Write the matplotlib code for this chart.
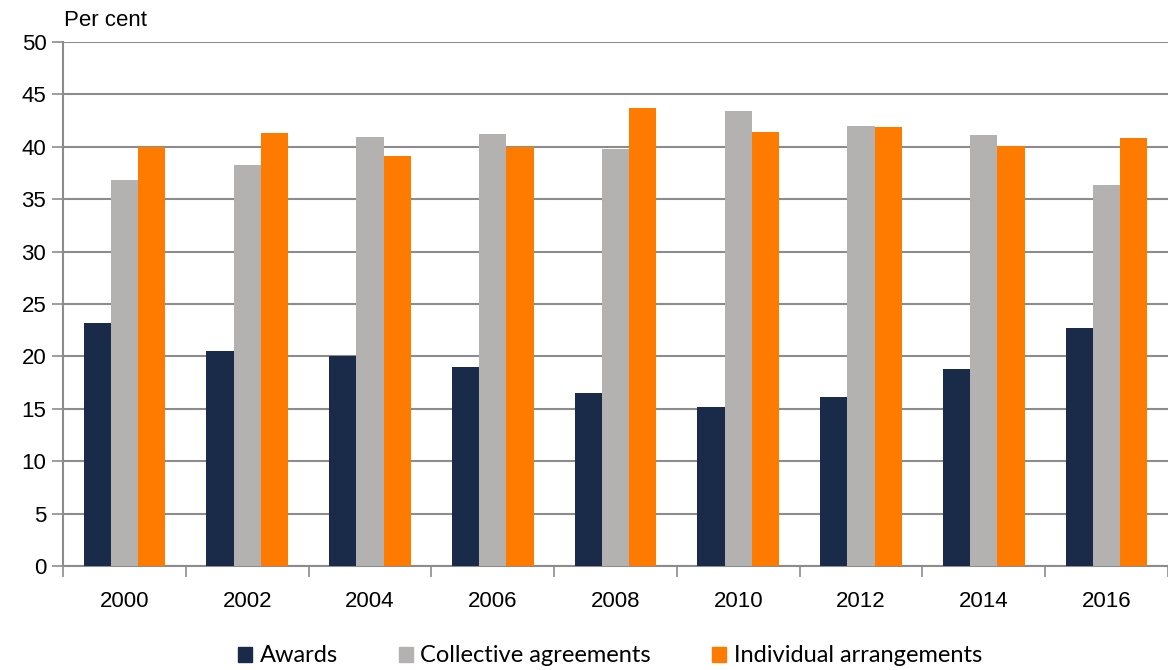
import numpy as np
import matplotlib.pyplot as plt
from matplotlib.patches import Patch

years = ['2000', '2002', '2004', '2006', '2008', '2010', '2012', '2014', '2016']
awards = [23.2, 20.5, 20.0, 19.0, 16.5, 15.2, 16.1, 18.8, 22.7]
collective = [36.8, 38.3, 40.9, 41.2, 39.8, 43.4, 42.0, 41.1, 36.4]
individual = [40.0, 41.3, 39.1, 40.0, 43.7, 41.4, 41.9, 40.1, 40.8]

series = [('Awards', awards, '#1a2b4a'),
          ('Collective agreements', collective, '#b3b2b1'),
          ('Individual arrangements', individual, '#ff7b00')]

plt.rcParams['font.family'] = ['Liberation Sans', 'DejaVu Sans']
fig = plt.figure(figsize=(11.68, 6.7), dpi=100)
ax = fig.add_axes([63 / 1168, 1 - 566 / 670, 1 - 63 / 1168, (566 - 42) / 670])

x = np.arange(len(years))
w = 0.222
for i, (name, vals, col) in enumerate(series):
    ax.bar(x + (i - 1) * w, vals, w, color=col, zorder=3, label=name)

ax.set_ylim(0, 50)
ax.set_yticks(np.arange(0, 51, 5))
ax.set_xlim(-0.5, 8.47)
ax.set_xticks(x)
ax.set_xticklabels(years)
ax.set_xticks(np.arange(-0.5, 9, 1), minor=True)
ax.tick_params(axis='x', which='major', length=0, pad=18, labelsize=16)
ax.tick_params(axis='x', which='minor', length=8, width=1.2, color='#8c8c8c')
ax.tick_params(axis='y', length=8, width=1.2, color='#8c8c8c', labelsize=16, pad=4)
ax.yaxis.grid(True, color='#8c8c8c', linewidth=1.5, zorder=0)
for s in ['top', 'right']:
    ax.spines[s].set_visible(False)
for s in ['left', 'bottom']:
    ax.spines[s].set_color('#8c8c8c')
    ax.spines[s].set_linewidth(1.5)
ax.set_axisbelow(True)

fig.text(64 / 1168, 1 - 20 / 670, 'Per cent', fontsize=16, va='center', ha='left')

handles = [Patch(color=c, label=n) for n, _, c in series]
fig.legend(handles=handles, loc='center', bbox_to_anchor=(610 / 1168, 1 - 656 / 670),
           ncol=3, frameon=False, prop={'family': 'Lato', 'size': 17},
           handlelength=0.6, handleheight=0.6, handletextpad=0.3, columnspacing=2.6)

fig.savefig('out.png', dpi=100)
